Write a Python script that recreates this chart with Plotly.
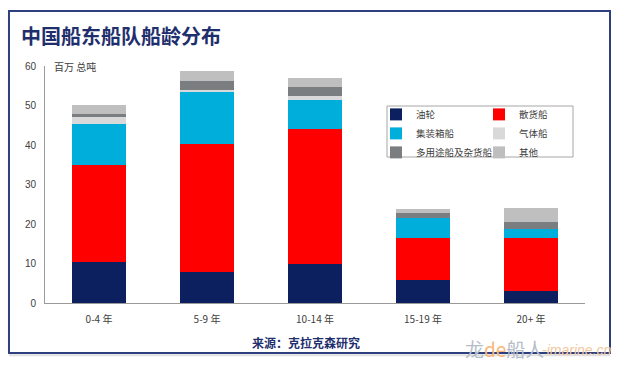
import plotly.graph_objects as go

categories = ["0-4 年", "5-9 年", "10-14 年", "15-19 年", "20+ 年"]
tanker = [10.4, 7.9, 9.9, 5.9, 3.0]
bulk = [24.5, 32.3, 34.2, 10.5, 13.4]
container = [10.5, 13.1, 7.4, 5.1, 2.3]
gas = [1.6, 0.7, 0.8, 0.0, 0.0]
multi = [0.9, 2.3, 2.5, 1.2, 1.9]
other = [2.3, 2.5, 2.1, 1.2, 3.4]

y_ticks = [0, 10, 20, 30, 40, 50, 60]

FONT = "Liberation Sans, Noto Sans CJK SC, Arial, sans-serif"
CJK = "Noto Sans CJK SC, Liberation Sans, sans-serif"
NAVY = "#1F2F6E"

series = [
    ("油轮", tanker, "#0C1F5E", "legend"),
    ("散货船", bulk, "#FF0000", "legend2"),
    ("集装箱船", container, "#00AEDB", "legend"),
    ("气体船", gas, "#D9D9D9", "legend2"),
    ("多用途船及杂货船", multi, "#7A7E80", "legend"),
    ("其他", other, "#BFBFBF", "legend2"),
]

fig = go.Figure()
for name, vals, color, lg in series:
    fig.add_trace(go.Bar(
        x=categories, y=vals, name=name,
        marker=dict(color=color, line=dict(width=0)),
        legend=lg,
    ))

legend_common = dict(
    orientation="v", xanchor="left", yanchor="top",
    bgcolor="rgba(0,0,0,0)", borderwidth=0,
    font=dict(family=CJK, size=9.5, color="#404040"),
    itemwidth=30, traceorder="normal", tracegroupgap=0,
)

fig.update_layout(
    width=624, height=368,
    margin=dict(l=45, r=39, t=66, b=65),
    paper_bgcolor="white", plot_bgcolor="white",
    barmode="stack", bargap=0.5,
    showlegend=True,
    legend=dict(x=(376 - 45) / 540, y=0.857, **legend_common),
    legend2=dict(x=(479 - 45) / 540, y=0.857, **legend_common),
    xaxis=dict(
        range=[-0.5, 4.5], showline=True, linecolor="#9A9A9A", linewidth=1,
        ticks="", showgrid=False, zeroline=False,
        tickfont=dict(family=CJK, size=10, color="#404040"),
        ticklabelstandoff=7,
    ),
    yaxis=dict(
        range=[0, 60], tickvals=y_ticks, showline=True, linecolor="#9A9A9A", linewidth=1,
        ticks="", showgrid=False, zeroline=False,
        tickfont=dict(family=FONT, size=10, color="#404040"),
        ticklabelstandoff=6,
    ),
    shapes=[
        # faint shadow under bottom border
        dict(type="line", xref="paper", yref="paper",
             x0=-0.0667, x1=1.0463, y0=-0.2200, y1=-0.2200,
             line=dict(color="#E0E0E0", width=2), layer="below"),
        # frame
        dict(type="rect", xref="paper", yref="paper",
             x0=-0.0667, x1=1.0463, y0=-0.2110, y1=1.2321,
             line=dict(color="#2E3F7F", width=2), layer="below"),
        # legend box
        dict(type="rect", xref="paper", yref="paper",
             x0=(387 - 45) / 540, x1=(573 - 45) / 540,
             y0=(303 - 157) / 237, y1=(303 - 106) / 237,
             line=dict(color="#A6A6A6", width=1), layer="below"),
    ],
    annotations=[
        dict(text="<b>中国船东船队船龄分布</b>", xref="paper", yref="paper",
             x=(19 - 45) / 540, y=1.1266, xanchor="left", yanchor="middle", showarrow=False,
             font=dict(family=CJK, size=20, color=NAVY)),
        dict(text="百万 总吨", xref="paper", yref="paper",
             x=0.013, y=1.0, xanchor="left", yanchor="middle", showarrow=False,
             font=dict(family=CJK, size=10, color="#404040")),
        dict(text="<b>来源：克拉克森研究</b>", xref="paper", yref="paper",
             x=0.4833, y=-0.1646, xanchor="center", yanchor="middle", showarrow=False,
             font=dict(family=CJK, size=12, color=NAVY)),
        dict(text="龙<span style='color:#F7B77A'>de</span>船人", xref="paper", yref="paper",
             x=(463 - 45) / 540, y=(303 - 348) / 237, xanchor="left", yanchor="middle",
             showarrow=False, font=dict(family=CJK, size=19, color="#B5BDC8")),
        dict(text="<i>-imarine.cn</i>", xref="paper", yref="paper",
             x=(540 - 45) / 540, y=(303 - 350) / 237, xanchor="left", yanchor="middle",
             showarrow=False, font=dict(family=FONT, size=14, color="#F0C8A0")),
    ],
)

fig.write_html(
    "out.html",
    config={"displayModeBar": False},
    post_script="document.body.style.margin='0';document.body.style.overflow='hidden';",
)
